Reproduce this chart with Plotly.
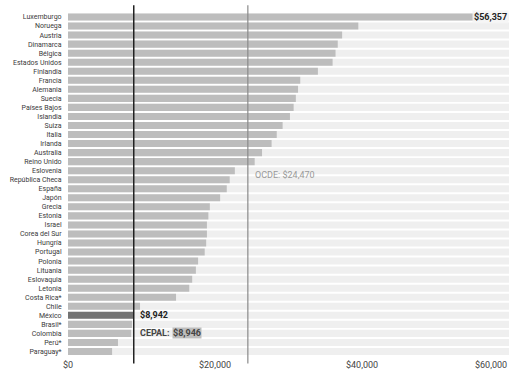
import plotly.graph_objects as go

countries = ["Luxemburgo", "Noruega", "Austria", "Dinamarca", "Bélgica", "Estados Unidos",
             "Finlandia", "Francia", "Alemania", "Suecia", "Países Bajos", "Islandia", "Suiza",
             "Italia", "Irlanda", "Australia", "Reino Unido", "Eslovenia", "República Checa",
             "España", "Japón", "Grecia", "Estonia", "Israel", "Corea del Sur", "Hungría",
             "Portugal", "Polonia", "Lituania", "Eslovaquia", "Letonia", "Costa Rica*", "Chile",
             "México", "Brasil*", "Colombia", "Perú*", "Paraguay*"]
values = [56357, 39500, 37300, 36700, 36400, 36000, 34000, 31600, 31300, 31000, 30700,
          30200, 29200, 28400, 27700, 26400, 25400, 22700, 22000, 21600, 20700, 19300,
          19100, 18900, 18900, 18800, 18600, 17700, 17400, 16900, 16500, 14700, 9800,
          8942, 8700, 8600, 6800, 6000]
highlight = "México"
ocde_avg = 24470
cepal_avg = 8946
axis_max = 60000
tick_vals = [0, 20000, 40000, 60000]
tick_text = ["$0", "$20,000", "$40,000", "$60,000"]

bar_colors = ["#6b6b6b" if c == highlight else "#c3c3c3" for c in countries]

fig = go.Figure()
fig.add_trace(go.Bar(
    y=countries, x=[axis_max] * len(countries), orientation="h",
    marker=dict(color="#efefef", line=dict(width=0)), width=0.78,
    hoverinfo="skip", showlegend=False))
fig.add_trace(go.Bar(
    y=countries, x=values, orientation="h",
    marker=dict(color=bar_colors, line=dict(width=0),
                pattern=dict(shape="|", size=2, solidity=0.2, fgcolor="#b0b0b0", fgopacity=0.25)),
    width=0.78, showlegend=False))

fig.update_layout(
    width=516, height=370,
    margin=dict(l=68, r=7, t=10, b=14),
    barmode="overlay", bargap=0.2,
    plot_bgcolor="white", paper_bgcolor="white",
    font=dict(family="Roboto", color="#333"),
    xaxis=dict(range=[0, axis_max], showgrid=False, zeroline=False,
               showticklabels=False, fixedrange=True),
    yaxis=dict(categoryorder="array", categoryarray=countries, autorange="reversed",
               showgrid=False, ticks="outside", ticklen=4, tickcolor="rgba(0,0,0,0)",
               tickfont=dict(size=7, color="#3a3a3a")),
)

# vertical reference lines
fig.add_shape(type="line", xref="x", yref="paper", x0=cepal_avg, x1=cepal_avg,
              y0=-0.022, y1=1.014, line=dict(color="#222", width=1.5), layer="above")
fig.add_shape(type="line", xref="x", yref="paper", x0=ocde_avg, x1=ocde_avg,
              y0=-0.022, y1=1.014, line=dict(color="#8a8a8a", width=1.2), layer="above")

# x tick labels
for v, t in zip(tick_vals, tick_text):
    anchor = "right" if v == axis_max else "center"
    fig.add_annotation(x=v, y=0, xref="x", yref="paper", text=t, showarrow=False,
                       xanchor=anchor, yanchor="top", yshift=-2,
                       font=dict(size=9, color="#444"))

# value labels
fig.add_annotation(x=1, xref="paper", y=countries[0], yref="y",
                   text="<b>$%s</b>" % f"{values[0]:,}", showarrow=False,
                   xanchor="right", font=dict(size=9, color="#222"),
                   bgcolor="rgba(245,245,245,0.85)", borderpad=1)
hi_val = values[countries.index(highlight)]
fig.add_annotation(x=cepal_avg, xref="x", y=highlight, yref="y",
                   text="<b>$%s</b>" % f"{hi_val:,}", showarrow=False,
                   xanchor="left", xshift=4, font=dict(size=9, color="#222"))
fig.add_annotation(x=cepal_avg, xref="x", y="Colombia", yref="y",
                   text="<b>CEPAL:</b>", showarrow=False, xanchor="left", xshift=4,
                   font=dict(size=9, color="#444"))
fig.add_annotation(x=cepal_avg, xref="x", y="Colombia", yref="y",
                   text="<b>$%s</b>" % f"{cepal_avg:,}", showarrow=False,
                   xanchor="left", xshift=38, bgcolor="#bdbdbd", borderpad=0,
                   font=dict(size=9, color="#444"))
fig.add_annotation(x=ocde_avg, xref="x", y=17.5, yref="y",
                   text="OCDE: $%s" % f"{ocde_avg:,}", showarrow=False,
                   xanchor="left", xshift=5, font=dict(size=9, color="#999"))

fig.write_html("out.html")
